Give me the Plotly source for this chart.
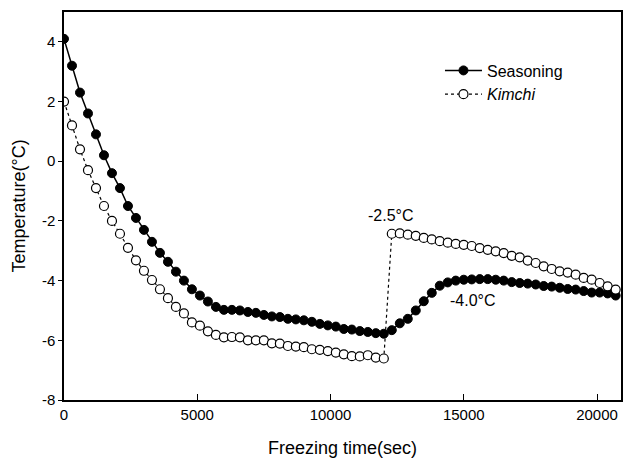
import plotly.graph_objects as go

# time axis (sec), sampled every 300 s
time_sec = list(range(0, 20701, 300))

seasoning = [4.1, 3.2, 2.3, 1.6, 0.9, 0.2, -0.4, -0.9, -1.5, -1.9,
             -2.3, -2.7, -3.07, -3.37, -3.7, -4.0, -4.29, -4.5, -4.7, -4.88,
             -4.98, -4.98, -5.0, -5.05, -5.08, -5.15, -5.2, -5.22, -5.28, -5.3,
             -5.33, -5.38, -5.45, -5.5, -5.54, -5.62, -5.64, -5.69, -5.72, -5.76,
             -5.78, -5.66, -5.43, -5.28, -5.0, -4.69, -4.41, -4.17, -4.06, -4.0,
             -3.97, -3.96, -3.95, -3.95, -3.97, -4.0, -4.05, -4.08, -4.1, -4.13,
             -4.18, -4.2, -4.24, -4.28, -4.3, -4.35, -4.4, -4.4, -4.43, -4.5]

kimchi = [2.0, 1.2, 0.4, -0.3, -0.9, -1.5, -2.0, -2.43, -2.9, -3.32,
          -3.67, -3.98, -4.29, -4.59, -4.88, -5.1, -5.4, -5.51, -5.7, -5.82,
          -5.9, -5.89, -5.9, -6.0, -6.0, -6.0, -6.1, -6.11, -6.19, -6.21,
          -6.23, -6.3, -6.32, -6.36, -6.41, -6.47, -6.53, -6.54, -6.5, -6.58,
          -6.61, -2.43, -2.42, -2.46, -2.5, -2.57, -2.62, -2.68, -2.73, -2.77,
          -2.8, -2.84, -2.91, -2.97, -3.02, -3.08, -3.17, -3.22, -3.33, -3.41,
          -3.52, -3.61, -3.69, -3.73, -3.8, -3.91, -3.97, -4.08, -4.19, -4.3]

x_ticks = [0, 5000, 10000, 15000, 20000]
y_ticks = [-8, -6, -4, -2, 0, 2, 4]

annot_text = ["-2.5°C", "-4.0°C"]
annot_x = [12260, 15350]
annot_y = [-1.83, -4.68]

FONT = "Liberation Sans, Arial, sans-serif"

fig = go.Figure()
fig.add_trace(go.Scatter(
    x=time_sec, y=seasoning, name="Seasoning", mode="lines+markers",
    line=dict(color="black", width=1.5),
    marker=dict(symbol="circle", size=9, color="black", line=dict(color="black", width=1)),
))
fig.add_trace(go.Scatter(
    x=time_sec, y=kimchi, name="<i>Kimchi</i>", mode="lines+markers",
    line=dict(color="black", width=1.2, dash="dot"),
    marker=dict(symbol="circle", size=9, color="white", line=dict(color="black", width=1.2)),
))

for t, ax_, ay_ in zip(annot_text, annot_x, annot_y):
    fig.add_annotation(x=ax_, y=ay_, text=t, showarrow=False,
                       font=dict(family=FONT, size=16, color="black"))

fig.update_layout(
    width=624, height=460,
    margin=dict(l=64, r=1, t=12, b=60),
    paper_bgcolor="white", plot_bgcolor="white",
    font=dict(family=FONT, color="black"),
    showlegend=True,
    legend=dict(x=0.675, y=0.893, xanchor="left", yanchor="top",
                bgcolor="rgba(0,0,0,0)", font=dict(family=FONT, size=16, color="black"),
                tracegroupgap=0, itemwidth=37),
)
fig.update_xaxes(
    range=[0, 20900], tickvals=x_ticks, ticktext=[str(v) for v in x_ticks],
    showgrid=False, zeroline=False,
    showline=True, linecolor="black", linewidth=1.5, mirror=True,
    ticks="inside", ticklen=6, tickcolor="black", tickwidth=1,
    tickfont=dict(family=FONT, size=15, color="black"),
    title=dict(text="Freezing time(sec)", font=dict(family=FONT, size=18, color="black"), standoff=20),
)
fig.update_yaxes(
    range=[-8, 5], tickvals=y_ticks, ticktext=[str(v) for v in y_ticks],
    showgrid=False, zeroline=False,
    showline=True, linecolor="black", linewidth=1.5, mirror=True,
    ticks="outside", ticklen=4, tickcolor="black", tickwidth=1,
    tickfont=dict(family=FONT, size=15, color="black"),
    title=dict(text="Temperature(°C)", font=dict(family=FONT, size=18, color="black"), standoff=12),
)

fig.write_html("out.html")
